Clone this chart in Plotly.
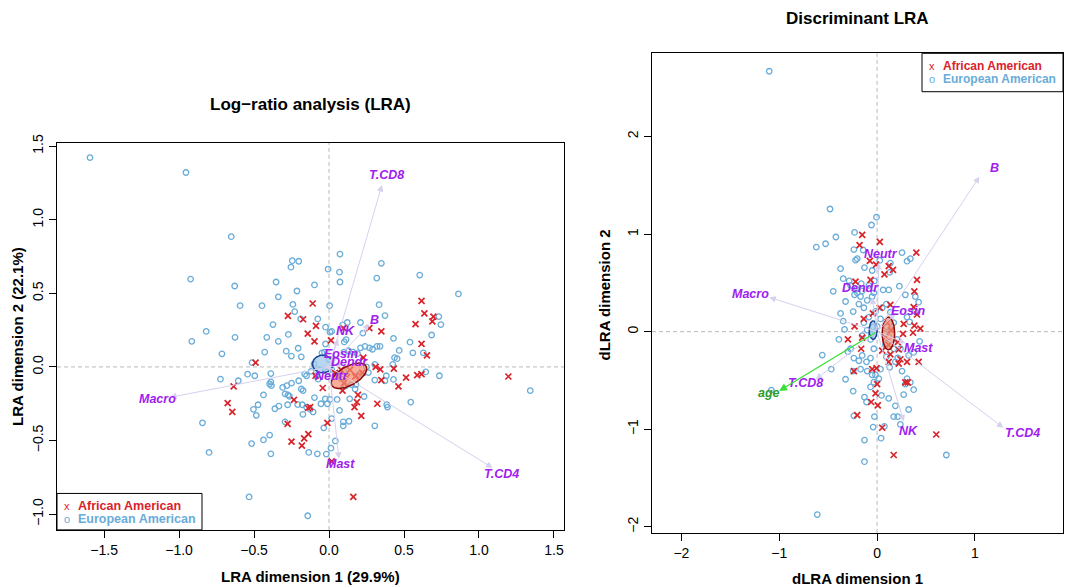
import numpy as np
import plotly.graph_objects as go

W, H = 1067, 586

# ---------------- data: left panel (LRA) ----------------
lra_ea_x = [-1.594,-0.954,-0.652,0.073,-0.923,-0.629,-0.353,-0.245,-0.202,-0.254,-0.006,0.070,0.073,0.349,0.318,0.605,0.863,
            -0.097,-0.338,-0.214,-0.593,-0.447,-0.241,-0.229,0.004,0.334,0.373,0.732,0.746,-0.075,-0.189,-0.374,-0.271,-0.415,
            -0.338,-0.627,-0.819,-0.915,-0.714,-0.429,-0.513,-0.285,-0.251,-0.206,-0.185,-0.023,0.006,0.018,-0.023,0.091,0.122,
            0.210,0.102,0.114,0.226,0.430,0.540,0.684,0.559,0.629,0.468,0.437,0.454,0.21,0.24,0.27,0.29,0.32,0.34,0.305,0.263,
            0.382,0.373,0.430,0.305,0.645,0.736,1.342,0.545,0.385,0.390,0.234,0.305,0.138,0.174,0.054,0.070,0.018,0.042,0.013,
            -0.018,-0.078,-0.135,-0.035,0.095,0.133,0.095,0.006,-0.025,-0.054,-0.011,-0.097,-0.185,-0.173,-0.202,-0.162,-0.150,
            -0.250,-0.281,-0.293,-0.274,-0.264,-0.309,-0.396,-0.388,-0.384,-0.388,-0.543,-0.495,-0.605,-0.724,-0.437,-0.473,
            -0.504,-0.485,-0.361,-0.334,-0.276,-0.209,-0.178,-0.174,-0.150,-0.106,-0.126,-0.844,-0.800,-0.516,-0.437,-0.396,
            -0.388,-0.293,-0.533,-0.142,-0.085,-0.073,-0.011,0.018,0.10,0.13,0.16,0.19,-0.047,0.425,0.18,0.15,0.11,
            0.05,0.10,0.20,0.08,0.25,-0.10,-0.06,-0.12,0.00,-0.03]
lra_ea_y = [1.422,1.321,0.885,0.767,0.597,0.550,0.577,0.722,0.718,0.678,0.664,0.644,0.577,0.704,0.604,0.624,0.496,
            0.557,0.476,0.516,0.416,0.416,0.425,0.376,0.416,0.423,0.349,0.342,0.288,0.326,0.326,0.288,0.221,0.201,
            0.174,0.201,0.241,0.174,0.089,0.101,0.029,0.107,0.074,0.127,0.069,0.270,0.237,0.242,0.156,0.286,0.302,
            0.302,0.170,0.186,0.230,0.194,0.168,0.217,0.096,0.096,0.112,0.063,0.056,0.13,0.14,0.13,0.12,0.14,0.14,0.018,-0.038,
            -0.060,-0.094,-0.085,-0.089,-0.034,-0.060,-0.161,-0.239,-0.257,-0.273,-0.201,-0.400,-0.217,-0.150,-0.221,-0.295,-0.351,-0.503,-0.552,
            -0.592,-0.590,-0.581,-0.414,-0.373,-0.369,-0.400,-0.221,-0.217,-0.250,-0.250,-0.208,-0.150,-0.161,-0.094,-0.049,-0.060,
            -0.110,-0.127,-0.183,-0.190,-0.199,-0.139,-0.116,-0.101,-0.127,-0.045,-0.049,-0.060,-0.094,-0.083,-0.190,-0.257,
            -0.288,-0.329,-0.284,-0.266,-0.257,-0.255,-0.257,-0.322,-0.273,-0.306,-0.288,-0.380,-0.581,-0.521,-0.496,-0.463,
            -0.590,-0.373,-0.883,-1.011,-0.060,-0.083,-0.034,-0.016,0.10,0.11,0.10,0.09,0.096,0.018,-0.12,-0.12,-0.13,
            -0.05,-0.03,-0.05,-0.08,0.00,0.02,-0.02,-0.03,0.05,0.10]

lra_aa_x = [-0.109,-0.274,-0.173,-0.087,-0.142,-0.097,0.013,0.097,0.269,0.349,0.617,0.636,0.577,0.696,0.689,0.617,0.653,
            0.588,0.617,0.514,0.463,0.432,0.349,0.342,0.311,0.229,0.222,0.174,1.196,-0.490,-0.636,-0.676,-0.645,-0.234,
            -0.140,-0.126,-0.042,-0.090,0.090,0.193,0.186,0.170,0.215,0.322,-0.011,-0.276,-0.250,-0.166,-0.138,-0.181,
            0.018,0.162,0.08,0.14,0.12,0.18,0.10,0.04]
lra_aa_y = [0.431,0.347,0.324,0.279,0.226,0.174,0.181,0.264,0.264,0.241,0.449,0.364,0.291,0.342,0.309,0.156,0.078,
            -0.056,-0.049,-0.072,-0.132,-0.011,-0.089,-0.016,0.000,0.063,-0.038,-0.065,-0.065,0.029,-0.132,-0.246,-0.306,-0.224,
            -0.279,-0.273,-0.143,-0.060,-0.161,-0.190,-0.239,-0.273,-0.333,-0.250,-0.380,-0.387,-0.507,-0.485,-0.456,-0.534,
            -0.642,-0.883,-0.02,-0.02,-0.07,-0.06,-0.11,-0.04]

lra_vars = ["T.CD8", "B", "NK", "Eosin", "Dendr", "Neutr", "Macro", "Mast", "T.CD4"]
lra_tip_x = [0.353, 0.27, 0.06, 0.04, 0.09, 0.01, -1.060, 0.066, 1.091]
lra_tip_y = [1.236, 0.29, 0.19, 0.07, 0.02, -0.03, -0.206, -0.624, -0.686]
lra_lab_x = [0.384, 0.305, 0.107, 0.078, 0.138, 0.018, -1.143, 0.078, 1.151]
lra_lab_y = [1.303, 0.320, 0.241, 0.085, 0.034, -0.060, -0.221, -0.660, -0.727]

# group ellipses: centre x, centre y, semi-axis a, semi-axis b, angle (deg)
lra_ell_ea = [-0.042, 0.020, 0.068, 0.060, 0.0]
lra_ell_aa = [0.133, -0.060, 0.132, 0.064, 30.0]

# ---------------- data: right panel (discriminant LRA) ----------------
dlra_ea_x = [-1.102,-0.481,-0.006,-0.057,-0.421,-0.621,-0.526,-0.230,-0.237,-0.203,-0.220,-0.142,-0.373,-0.129,-0.050,-0.027,
             0.028,0.136,0.129,0.119,0.062,0.228,0.255,0.340,0.306,-0.448,0.289,0.391,0.425,-0.322,-0.244,-0.373,-0.346,
             -0.332,-0.390,-0.271,-0.298,-0.560,-0.468,-0.322,-0.244,-0.244,-0.129,-0.108,-0.067,-0.033,0.045,0.119,0.187,
             0.323,0.170,0.211,0.238,-0.237,-0.027,-0.040,0.075,0.041,-0.129,-0.129,0.708,-0.611,0.255,0.306,0.340,0.289,
             0.374,0.272,0.435,0.374,0.323,0.306,0.333,0.391,0.187,0.129,0.095,0.238,0.211,
             -0.033,-0.067,-0.108,-0.152,-0.186,-0.237,-0.169,-0.101,-0.016,0.035,0.018,-0.050,
             -0.135,-0.101,-0.152,-0.067,0.001,0.035,-0.084,-0.016,0.052,0.095,0.136,0.170,0.204,0.170,0.086,
             -0.186,-0.135,-0.101,-0.050,-0.203,-0.152,-0.271,-0.084,-0.033,
             -0.346,-0.285,-0.210,-0.162,-0.230,-0.169,-1.08,0.10,0.12,0.10,0.14,0.08,-0.04,-0.06]
dlra_ea_y = [2.669,1.257,1.173,1.093,0.970,0.867,0.901,1.017,0.841,0.748,0.733,0.837,0.646,0.657,0.627,0.520,
             0.730,0.703,0.608,0.428,0.428,0.466,0.810,0.748,0.722,0.413,0.378,0.359,0.302,0.309,0.206,0.187,0.107,
             0.023,-0.080,-0.175,-0.205,-0.240,-0.385,-0.488,-0.404,-0.610,-0.671,-0.721,-0.567,-0.518,-0.654,-0.684,-0.760,
             -0.798,-0.871,-0.871,-0.951,-0.863,-0.871,-0.978,-0.970,-1.092,-1.111,-1.333,-1.264,-1.875,-0.404,-0.481,-0.519,-0.538,
             -0.595,-0.645,-0.099,-0.213,-0.244,0.149,0.100,0.206,-0.309,-0.366,-0.259,-0.175,-0.270,
             -0.175,-0.271,-0.309,-0.244,-0.298,-0.271,-0.385,-0.404,-0.443,-0.385,-0.481,-0.443,
             0.092,0.016,-0.041,-0.080,0.054,0.130,0.149,0.207,0.245,0.283,0.199,0.092,-0.080,-0.176,-0.137,
             0.283,0.245,0.321,0.360,0.398,0.417,0.474,0.474,0.398,
             0.543,0.520,0.436,0.493,0.378,0.360,-0.60,0.05,-0.05,-0.12,0.02,-0.02,0.05,-0.03]

dlra_aa_x = [-0.152,0.028,-0.179,0.401,-0.074,-0.010,-0.067,0.119,0.163,0.075,0.408,-0.220,0.381,0.136,0.028,-0.043,
             0.374,0.408,0.381,0.442,0.272,0.265,0.367,-0.136,-0.230,-0.298,-0.152,-0.163,0.211,0.221,0.136,0.238,0.306,
             0.425,0.221,0.119,0.289,0.313,-0.237,-0.050,-0.006,0.001,-0.016,-0.060,0.007,-0.203,0.052,0.605,0.170,
             0.103,0.143,0.086,0.052,0.119]
dlra_aa_y = [0.993,0.920,0.886,0.810,0.726,0.688,0.531,0.672,0.634,0.588,0.531,0.512,0.413,0.275,0.245,0.187,
             0.252,0.176,0.062,0.031,0.080,-0.023,-0.011,0.130,0.054,-0.080,-0.061,-0.175,-0.107,-0.183,-0.233,-0.283,-0.309,
             -0.309,-0.328,-0.309,-0.519,-0.519,-0.404,-0.385,-0.374,-0.538,-0.633,-0.721,-0.755,-0.855,-0.985,-1.054,-1.264,
             0.092,0.016,-0.060,-0.194,-0.137]

dlra_vars = ["B", "Macro", "T.CD4", "NK", "T.CD8", "Neutr", "Dendr", "Eosin", "Mast"]
dlra_tip_x = [1.046, -1.102, 1.290, 0.272, -0.627, 0.017, -0.05, 0.187, 0.289]
dlra_tip_y = [1.589, 0.352, -0.985, -0.920, -0.489, 0.703, 0.35, 0.187, -0.118]
dlra_lab_x = [1.199, -1.289, 1.484, 0.323, -0.729, 0.035, -0.169, 0.316, 0.425]
dlra_lab_y = [1.676, 0.386, -1.035, -1.023, -0.527, 0.791, 0.443, 0.214, -0.168]
age_tip = [-1.000, -0.607]
age_lab = [-1.102, -0.626]

dlra_ell_ea = [-0.040, 0.016, 0.041, 0.095, 0.0]
dlra_ell_aa = [0.116, -0.018, 0.064, 0.168, 0.0]

groups = ["African American", "European American"]

# ---------------- styles ----------------
RED = "#d9232a"
BLUE = "#69acd9"
PURPLE = "#a020f0"
ARROW = "#d6d1ee"
FONT = "Liberation Sans, Arial, sans-serif"


def px2x(px):
    return px / W


def py2y(py):
    return 1 - py / H


def ellipse(params, n=120):
    cx, cy, a, b, ang = params
    t = np.linspace(0, 2 * np.pi, n)
    th = np.deg2rad(ang)
    ex = a * np.cos(t)
    ey = b * np.sin(t)
    return cx + ex * np.cos(th) - ey * np.sin(th), cy + ex * np.sin(th) + ey * np.cos(th)


fig = go.Figure()

panels = [
    dict(xa="x", ya="y", ea=(lra_ea_x, lra_ea_y), aa=(lra_aa_x, lra_aa_y),
         e_ea=lra_ell_ea, e_aa=lra_ell_aa),
    dict(xa="x2", ya="y2", ea=(dlra_ea_x, dlra_ea_y), aa=(dlra_aa_x, dlra_aa_y),
         e_ea=dlra_ell_ea, e_aa=dlra_ell_aa),
]

for p in panels:
    fig.add_trace(go.Scatter(x=p["ea"][0], y=p["ea"][1], mode="markers", xaxis=p["xa"], yaxis=p["ya"],
                             marker=dict(symbol="circle-open", size=5.5, color=BLUE, line=dict(width=1.3)),
                             showlegend=False, hoverinfo="skip", name=groups[1]))
    fig.add_trace(go.Scatter(x=p["aa"][0], y=p["aa"][1], mode="markers", xaxis=p["xa"], yaxis=p["ya"],
                             marker=dict(symbol="x-thin-open", size=6, color=RED, line=dict(width=1.7, color=RED)),
                             showlegend=False, hoverinfo="skip", name=groups[0]))
    ex, ey = ellipse(p["e_ea"])
    fig.add_trace(go.Scatter(x=ex, y=ey, mode="lines", fill="toself", xaxis=p["xa"], yaxis=p["ya"],
                             fillcolor="rgba(160,200,235,0.75)", line=dict(color="#17468f", width=1.5),
                             showlegend=False, hoverinfo="skip"))
    ex, ey = ellipse(p["e_aa"])
    fig.add_trace(go.Scatter(x=ex, y=ey, mode="lines", fill="toself", xaxis=p["xa"], yaxis=p["ya"],
                             fillcolor="rgba(245,140,110,0.7)", line=dict(color="#8b0a0a", width=1.5),
                             showlegend=False, hoverinfo="skip"))

ann = []
shapes = []

# zero dashed lines
for xa, ya in [("x", "y"), ("x2", "y2")]:
    shapes.append(dict(type="line", xref=xa, yref=ya + " domain", x0=0, x1=0, y0=0, y1=1,
                       line=dict(color="#b8b8b8", width=1, dash="4px,3px"), layer="below"))
    shapes.append(dict(type="line", xref=xa + " domain", yref=ya, x0=0, x1=1, y0=0, y1=0,
                       line=dict(color="#b8b8b8", width=1, dash="4px,3px"), layer="below"))

# arrows + labels
def add_arrows(names, tx, ty, lx, ly, xa, ya):
    for n, a, b in zip(names, tx, ty):
        ann.append(dict(x=a, y=b, ax=0, ay=0, xref=xa, yref=ya, axref=xa, ayref=ya, text="",
                        showarrow=True, arrowhead=2, arrowsize=1.3, arrowwidth=1, arrowcolor=ARROW))
    for n, a, b in zip(names, lx, ly):
        ann.append(dict(x=a, y=b, xref=xa, yref=ya, text="<b><i>%s</i></b>" % n, showarrow=False,
                        font=dict(family=FONT, size=12.5, color=PURPLE)))

add_arrows(lra_vars, lra_tip_x, lra_tip_y, lra_lab_x, lra_lab_y, "x", "y")
add_arrows(dlra_vars, dlra_tip_x, dlra_tip_y, dlra_lab_x, dlra_lab_y, "x2", "y2")
ann.append(dict(x=age_tip[0], y=age_tip[1], ax=0, ay=0, xref="x2", yref="y2", axref="x2", ayref="y2", text="",
                showarrow=True, arrowhead=2, arrowsize=1.3, arrowwidth=1.2, arrowcolor="#33e033"))
ann.append(dict(x=age_lab[0], y=age_lab[1], xref="x2", yref="y2", text="<b><i>age</i></b>", showarrow=False,
                font=dict(family=FONT, size=12.5, color="#2a9a2a")))

# titles and axis titles
def txt(s, px, py, size, angle=0, bold=True, color="black"):
    ann.append(dict(x=px2x(px), y=py2y(py), xref="paper", yref="paper", showarrow=False,
                    text=("<b>%s</b>" % s) if bold else s, textangle=angle,
                    font=dict(family=FONT, size=size, color=color), xanchor="center", yanchor="middle"))

txt("Log\u2212ratio analysis (LRA)", 310, 97, 17)
txt("Discriminant LRA", 857, 10, 17)
txt("LRA dimension 1 (29.9%)", 310, 576, 15)
txt("LRA dimension 2 (22.1%)", 18, 333, 15, angle=-90)
txt("dLRA dimension 1", 857, 578, 15)
txt("dLRA dimension 2", 605, 291, 15, angle=-90)

# manual legends
def legend(x0, y0, x1, y1, fsize):
    shapes.append(dict(type="rect", xref="paper", yref="paper", x0=px2x(x0), x1=px2x(x1), y0=py2y(y0), y1=py2y(y1),
                       line=dict(color="black", width=1), fillcolor="white", layer="above"))
    rows = [(groups[0], RED, "x", y0 + 12.5), (groups[1], BLUE, "o", y0 + 26)]
    for name, col, sym, yy in rows:
        ann.append(dict(x=px2x(x0 + 10), y=py2y(yy), xref="paper", yref="paper", showarrow=False,
                        text=sym, font=dict(family=FONT, size=11, color=col), xanchor="center", yanchor="middle"))
        ann.append(dict(x=px2x(x0 + 19), y=py2y(yy), xref="paper", yref="paper", showarrow=False,
                        text="<b>%s</b>" % name, font=dict(family=FONT, size=fsize, color=col),
                        xanchor="left", yanchor="middle"))

legend(57, 492, 202, 529, 12.5)
legend(922, 45, 1063, 84, 12)

L = dict(x0=57, x1=564, y0=136, y1=529)
R = dict(x0=652, x1=1063, y0=45, y1=532)

axcommon = dict(showgrid=False, zeroline=False, showline=True, mirror=True, linecolor="black", linewidth=1,
                ticks="outside", ticklen=7, tickcolor="black", tickwidth=1,
                tickfont=dict(family=FONT, size=14, color="black"))

fig.update_layout(
    width=W, height=H, margin=dict(l=0, r=0, t=0, b=0), paper_bgcolor="white", plot_bgcolor="white",
    showlegend=False,
    xaxis=dict(domain=[px2x(L["x0"]), px2x(L["x1"])], range=[-1.814, 1.567], anchor="y",
               tickvals=[-1.5, -1.0, -0.5, 0.0, 0.5, 1.0, 1.5], tickformat=".1f", **axcommon),
    yaxis=dict(domain=[py2y(L["y1"]), py2y(L["y0"])], range=[-1.107, 1.522], anchor="x",
               tickvals=[-1.0, -0.5, 0.0, 0.5, 1.0, 1.5], tickformat=".1f", tickangle=-90, **axcommon),
    xaxis2=dict(domain=[px2x(R["x0"]), px2x(R["x1"])], range=[-2.30, 1.90], anchor="y2",
                tickvals=[-2, -1, 0, 1], **axcommon),
    yaxis2=dict(domain=[py2y(R["y1"]), py2y(R["y0"])], range=[-2.062, 2.853], anchor="x2",
                tickvals=[-2, -1, 0, 1, 2], tickangle=-90, **axcommon),
    annotations=ann, shapes=shapes,
)

fig.write_html("out.html")
